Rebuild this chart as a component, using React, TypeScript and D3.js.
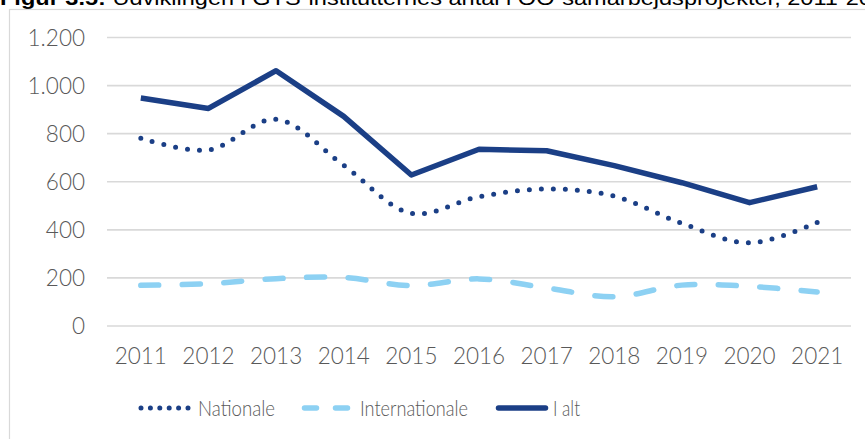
import React from "react";
import * as d3 from "d3";

const years = ["2011","2012","2013","2014","2015","2016","2017","2018","2019","2020","2021"];
const nationale = [781, 732, 860, 668, 469, 538, 570, 540, 427, 346, 431];
const internationale = [169, 176, 197, 202, 168, 196, 158, 122, 170, 165, 141];
const iAlt = [948, 905, 1062, 872, 628, 735, 729, 667, 596, 513, 579];
const yTicks = [0, 200, 400, 600, 800, 1000, 1200];
const seriesNames = ["Nationale", "Internationale", "I alt"];
const titleBold = "Figur 3.5:";
const titleRest = " Udviklingen i GTS-institutternes antal i OO-samarbejdsprojekter, 2011-2021";

const NAVY = "#1b3f86";
const LIGHT = "#8dd1f3";
const GRID = "#d9d9d9";
const TEXT = "#595959";
const FONT = "Lato, 'Open Sans', sans-serif";

const locale = d3.formatLocale({ decimal: ",", thousands: ".", grouping: [3], currency: ["", " kr."] });
const fmt = locale.format(",d");

export default function App() {
  const W = 865, H = 439;
  const x = d3.scalePoint<string>().domain(years).range([107, 851]).padding(0.5);
  const y = d3.scaleLinear().domain([0, 1200]).range([326, 37.5]);

  const smooth = d3.line<number>().x((_, i) => x(years[i])!).y(d => y(d)).curve(d3.curveCatmullRom.alpha(0.5));
  const straight = d3.line<number>().x((_, i) => x(years[i])!).y(d => y(d));

  const legendY = 408;
  return (
    <svg width={W} height={H} style={{ position: "absolute", left: 0, top: 0, background: "#fff" }}>
      <text x={0} y={5} fontFamily="'Liberation Sans', Arial, sans-serif" fontSize={21} fill="#000" textLength={898} lengthAdjust="spacingAndGlyphs">
        <tspan fontWeight="bold">{titleBold}</tspan>
        <tspan>{titleRest}</tspan>
      </text>
      <rect x={9.5} y={9.5} width={W + 20} height={H + 20} fill="#fff" stroke={GRID} strokeWidth={1.2} />
      {yTicks.map(t => (
        <g key={t}>
          <line x1={107} x2={851} y1={y(t)} y2={y(t)} stroke={GRID} strokeWidth={1.6} />
          <text x={85} y={y(t)} dy="0.36em" textAnchor="end" fontFamily={FONT} fontSize={22.5} fontWeight={300} fill={TEXT}>{fmt(t)}</text>
        </g>
      ))}
      {years.map(yr => (
        <text key={yr} x={x(yr)} y={364} textAnchor="middle" fontFamily={FONT} fontSize={22.5} fontWeight={300} fill={TEXT}>{yr}</text>
      ))}
      <path d={smooth(internationale)!} fill="none" stroke={LIGHT} strokeWidth={5.5} strokeLinecap="round" strokeDasharray="18 23.5" />
      <path d={smooth(nationale)!} fill="none" stroke={NAVY} strokeWidth={5} strokeLinecap="round" strokeDasharray="0 12" />
      <path d={straight(iAlt)!} fill="none" stroke={NAVY} strokeWidth={5.5} strokeLinejoin="round" />

      <line x1={141} x2={188} y1={legendY} y2={legendY} stroke={NAVY} strokeWidth={5} strokeLinecap="round" strokeDasharray="0 9.4" />
      <text x={198} y={415.5} fontFamily={FONT} fontSize={22} fontWeight={300} fill={TEXT} textLength={77} lengthAdjust="spacingAndGlyphs">{seriesNames[0]}</text>
      <line x1={304.5} x2={347.5} y1={legendY} y2={legendY} stroke={LIGHT} strokeWidth={5.5} strokeLinecap="round" strokeDasharray="12 19" />
      <text x={360} y={415.5} fontFamily={FONT} fontSize={22} fontWeight={300} fill={TEXT} textLength={108} lengthAdjust="spacingAndGlyphs">{seriesNames[1]}</text>
      <line x1={498.5} x2={545.5} y1={legendY} y2={legendY} stroke={NAVY} strokeWidth={5.5} strokeLinecap="round" />
      <text x={553} y={415.5} fontFamily={FONT} fontSize={22} fontWeight={300} fill={TEXT} textLength={27} lengthAdjust="spacingAndGlyphs">{seriesNames[2]}</text>
    </svg>
  );
}
